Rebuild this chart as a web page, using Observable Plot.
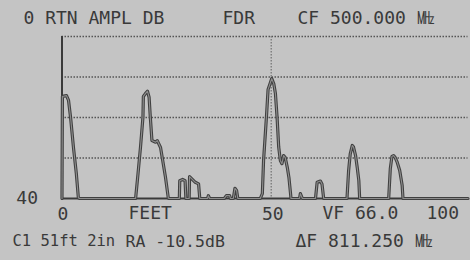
<!DOCTYPE html>
<html>
<head>
<meta charset="utf-8">
<script src="https://cdn.jsdelivr.net/npm/d3@7"></script>
<script src="https://cdn.jsdelivr.net/npm/@observablehq/plot@0.6"></script>
<style>
  html, body { margin: 0; padding: 0; background: #c4c4c4; }
  #chart svg { display: block; }
</style>
</head>
<body>
<div id="chart"></div>
<script>
// ---- data ----
// distance in feet
const traceFeet = [0, 0.1, 1.1, 1.6, 2.1, 2.8, 3.5, 4.0, 4.3,
  18.0, 18.6, 19.2, 19.8, 19.9, 20.4, 20.9, 21.3, 21.6, 22.0, 22.9, 23.3, 24.1, 24.5, 25.3, 26.0, 26.2,
  28.7, 28.8, 29.5, 30.1, 30.3,
  31.1, 31.2, 32.6, 33.4, 33.7,
  35.6, 35.8, 36.1,
  39.7, 40.2, 41.0, 41.2,
  41.9, 42.3, 42.7, 43.0,
  48.5, 49.0, 49.3, 50.0, 50.4, 51.0, 51.3, 51.8, 52.2, 52.6, 53.0, 53.4, 53.8, 54.2, 54.6, 55.1, 55.5, 55.9, 56.0,
  58.1, 58.3, 58.8,
  62.0, 62.4, 63.2, 63.6, 64.0,
  69.7, 70.1, 70.5, 71.0, 71.3, 71.8, 72.2, 72.6, 72.8,
  79.9, 80.3, 80.7, 81.1, 81.5, 82.0, 82.6, 83.2, 83.4,
  99.3];
// return amplitude in dB (0 at top, 40 at bottom)
const traceDb = [40, 14.8, 14.6, 15.8, 20.0, 27.4, 33.8, 39.8, 40,
  40, 33.8, 27.3, 19.9, 14.8, 14.1, 13.5, 15.0, 19.9, 25.7, 26.1, 25.7, 27.4, 29.8, 34.7, 39.9, 40,
  40, 35.6, 35.3, 35.6, 40,
  40, 34.6, 36.0, 36.4, 40,
  40, 39.3, 40,
  40, 39.3, 39.3, 40,
  40, 37.5, 38.0, 40,
  40, 38.8, 30.6, 19.9, 13.1, 11.3, 10.4, 11.7, 14.1, 19.9, 27.3, 30.6, 31.4, 29.4, 29.9, 32.3, 34.8, 38.8, 40,
  40, 38.8, 40,
  40, 36.0, 35.7, 36.5, 40,
  40, 33.1, 29.0, 26.9, 27.3, 29.4, 32.3, 35.6, 40,
  40, 32.6, 29.6, 29.4, 29.9, 31.1, 33.1, 36.8, 40,
  40];
const gridDb = [0, 10, 20, 30];
const baseDb = [40];
const cursorFeet = [51.17];
const xTicks = [0, 50];
const yTicks = [40];
const xDomain = [0, 99.3];
const yDomain = [0, 40];

const titleLeft = "0 RTN AMPL DB";
const titleMid = "FDR";
const titleRight = "CF 500.000 ㎒";
const axisWord = "FEET";
const vfLabel = "VF 66.0";
const farLabel = "100";
const cursorLabel = "C1 51ft 2in";
const raLabel = "RA -10.5dB";
const dfLabel = "ΔF 811.250 ㎒";

const trace = traceFeet.map((f, i) => ({feet: f, db: traceDb[i]}));

// ---- chart ----
const W = 470, H = 260;
const mL = 61.5, mR = 2.5, mT = 36, mB = 62;
const ink = "#3a3a3a";
const font = "'DejaVu Sans Mono', monospace";
const fs = 18;

const txt = (s, dx, dy, size = fs) =>
  Plot.text([s], {text: d => d, frameAnchor: "top-left", textAnchor: "start",
    dx, dy, fill: ink, fontSize: size, fontFamily: font, lineAnchor: "middle"});

const chart = Plot.plot({
  width: W, height: H,
  marginLeft: mL, marginRight: mR, marginTop: mT, marginBottom: mB,
  style: {background: "#c4c4c4", fontFamily: font, color: ink, overflow: "visible"},
  x: {domain: xDomain, axis: null, label: null},
  y: {domain: yDomain, reverse: true, axis: null, label: null},
  marks: [
    Plot.ruleY(gridDb, {stroke: "#555", strokeWidth: 1.6, strokeDasharray: "1.5,1.5"}),
    Plot.ruleX(cursorFeet, {stroke: "#777", strokeWidth: 1.3, strokeDasharray: "1.5,1.5"}),
    Plot.ruleY(baseDb, {stroke: ink, strokeWidth: 2}),
    Plot.ruleX([0], {stroke: ink, strokeWidth: 2}),
    Plot.line(trace, {x: "feet", y: "db", stroke: "#404040", strokeWidth: 3.2}),
    Plot.line(trace, {x: "feet", y: "db", stroke: "#8e8e8e", strokeWidth: 1.1}),
    Plot.axisX({ticks: xTicks, tickSize: 0, tickPadding: 9, label: null, fontSize: fs, fontFamily: font, fill: ink, textAnchor: "start", dx: -4.5}),
    Plot.axisY({ticks: yTicks, tickSize: 0, tickPadding: 24, label: null, fontSize: fs, fontFamily: font, fill: ink}),
    txt(titleLeft, 23 - mL, 18 - mT),
    txt(titleMid, 222 - mL, 18 - mT),
    txt(titleRight, 297 - mL, 18 - mT),
    txt(axisWord, 128 - mL, 213 - mT),
    txt(vfLabel, 322 - mL, 213 - mT),
    txt(farLabel, 426 - mL, 213 - mT),
    txt(cursorLabel, 12 - mL, 241 - mT, 15.5),
    txt(raLabel, 125 - mL, 241 - mT, 16.5),
    txt(dfLabel, 295 - mL, 241 - mT)
  ]
});
document.getElementById("chart").appendChild(chart);
</script>
</body>
</html>
